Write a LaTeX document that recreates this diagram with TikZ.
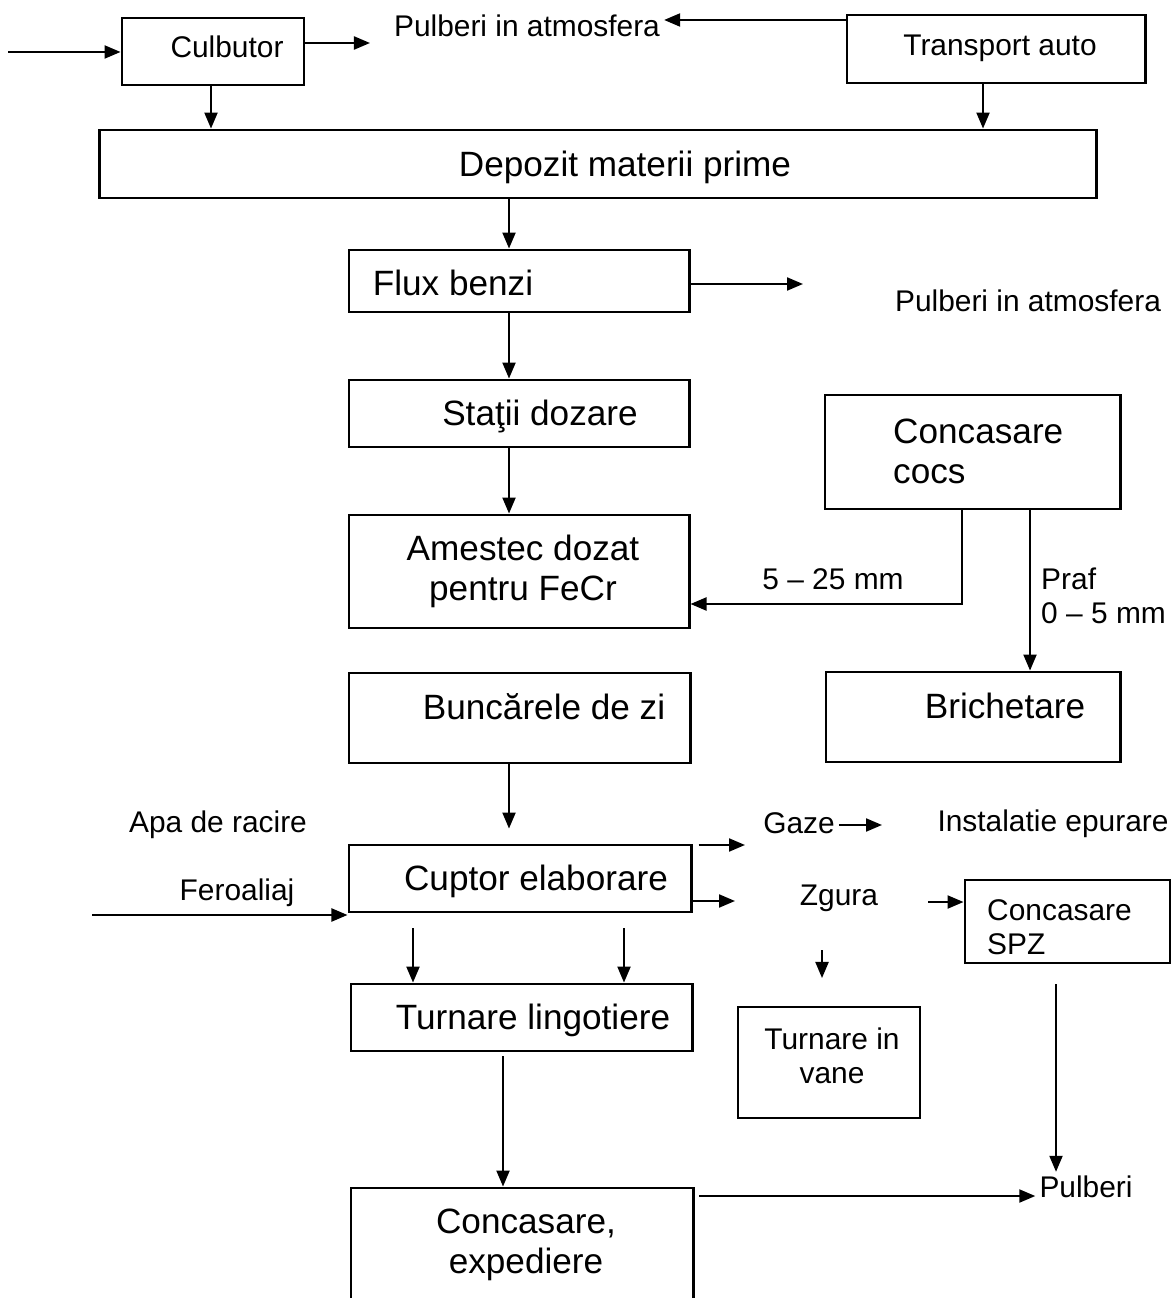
\documentclass[tikz,border=0pt]{standalone}
\usepackage{fontspec}
\setmainfont{Liberation Sans}
\usetikzlibrary{arrows.meta}
\tikzset{
  box/.style={draw, line width=0.8pt, inner sep=0pt},
  big/.style={font=\fontsize{10}{11.4}\selectfont, inner sep=1pt},
  small/.style={font=\fontsize{8.5}{9.7}\selectfont, inner sep=1pt},
  arr/.style={line width=0.6pt, -{Triangle[length=1.6mm,width=1.3mm]}}
}
\begin{document}
\begin{tikzpicture}[x=0.01cm,y=-0.01cm]
     \useasboundingbox (0,0) rectangle (1174,1298);
     \clip (0,0) rectangle (1174,1298);

     \node[box, minimum width=1.82cm, minimum height=0.67cm] (culbutor) at (213,51.5) {};
     \node[box, minimum width=2.98cm, minimum height=0.68cm] (transport) at (996,49) {};
     \node[box, minimum width=9.96cm, minimum height=0.68cm] (depozit) at (598,164) {};
     \node[box, minimum width=3.40cm, minimum height=0.62cm] (flux) at (519,281) {};
     \node[box, minimum width=3.40cm, minimum height=0.67cm] (statii) at (519,413.5) {};
     \node[box, minimum width=3.40cm, minimum height=1.13cm] (amestec) at (519,571.5) {};
     \node[box, minimum width=2.95cm, minimum height=1.14cm] (cocs) at (972.5,452) {};
     \node[box, minimum width=2.94cm, minimum height=0.90cm] (brichetare) at (973,717) {};
     \node[box, minimum width=3.41cm, minimum height=0.90cm] (buncare) at (519.5,718) {};
     \node[box, minimum width=3.42cm, minimum height=0.67cm] (cuptor) at (520,878.5) {};
     \node[box, minimum width=2.05cm, minimum height=0.83cm] (spz) at (1067.5,921.5) {};
     \node[box, minimum width=3.41cm, minimum height=0.67cm] (lingotiere) at (521.5,1017.5) {};
     \node[box, minimum width=1.82cm, minimum height=1.11cm] (vane) at (829,1062.5) {};
     \node[box, minimum width=3.42cm, minimum height=1.30cm] (expediere) at (522,1253) {};

     \node[small] (culbutortxt) at (227,47) {Culbutor};
     \node[small] (pulberi1) at (527,26) {Pulberi in atmosfera};
     \node[small] (transporttxt) at (1000,48) {Transport auto};
     \node[big] (depozittxt) at (625,167) {Depozit materii prime};
     \node[big] (fluxtxt) at (453,283) {Flux benzi};
     \node[small] (pulberi2) at (1028,301) {Pulberi in atmosfera};
     \node[big] (statiitxt) at (540,416) {Staţii dozare};
     \node[big, align=center] (amestectxt) at (523,571) {Amestec dozat\\pentru FeCr};
     \node[big, align=left, anchor=west] (cocstxt) at (889,451) {Concasare\\ cocs};
     \node[small] (granule) at (833,579) {5 -- 25 mm};
     \node[small, align=left, anchor=west] (praf) at (1037,596) {Praf\\0 -- 5 mm};
     \node[big] (brichetaretxt) at (1005,706) {Brichetare};
     \node[big] (buncaretxt) at (544,707) {Buncărele de zi};
     \node[small] (apa) at (218,825) {Apa de racire};
     \node[small] (feroaliaj) at (237,893) {Feroaliaj};
     \node[big] (cuptortxt) at (536,881) {Cuptor elaborare};
     \node[small] (gaze) at (799,823) {Gaze};
     \node[small] (instalatie) at (1053,824) {Instalatie epurare};
     \node[small] (zgura) at (839,898) {Zgura};
     \node[small, align=left, anchor=west] (spztxt) at (983,927) {Concasare\\SPZ};
     \node[big] (lingotieretxt) at (533,1020) {Turnare lingotiere};
     \node[small, align=center] (vanetxt) at (832,1056) {Turnare in\\vane};
     \node[big, align=center] (expedieretxt) at (526,1245) {Concasare,\\expediere};
     \node[small] (pulberi3) at (1086,1187) {Pulberi};

     \coordinate (intrare) at (8,52);
     \draw[arr] (intrare) -- (culbutor.west |- intrare);
     \coordinate (iesire1) at (370,43);
     \draw[arr] (culbutor.east |- iesire1) -- (iesire1);
     \coordinate (yt) at (0,20);
     \draw[arr] (transport.west |- yt) -- (pulberi1.east |- yt);
     \coordinate (xa) at (211,0);
     \draw[arr] (xa |- culbutor.south) -- (xa |- depozit.north);
     \coordinate (xt) at (983,0);
     \draw[arr] (xt |- transport.south) -- (xt |- depozit.north);

     \coordinate (col) at (509,0);
     \draw[arr] (col |- depozit.south) -- (col |- flux.north);
     \coordinate (iesire2) at (803,284);
     \draw[arr] (flux.east |- iesire2) -- (iesire2);
     \draw[arr] (col |- flux.south) -- (col |- statii.north);
     \draw[arr] (col |- statii.south) -- (col |- amestec.north);

     \coordinate (xb) at (962,0);
     \coordinate (yb) at (0,604);
     \draw[arr] (xb |- cocs.south) |- (amestec.east |- yb);
     \coordinate (xp) at (1030,0);
     \draw[arr] (xp |- cocs.south) -- (xp |- brichetare.north);

     \draw[arr, shorten >=0.15cm] (col |- buncare.south) -- (col |- cuptor.north);
     \coordinate (feroin) at (92,915);
     \draw[arr] (feroin) -- (cuptor.west |- feroin);
     \coordinate (gazein) at (745,845);
     \draw[arr, shorten <=0.06cm] (cuptor.east |- gazein) -- (gazein);
     \coordinate (gazeout) at (882,825);
     \draw[arr] (gaze.east |- gazeout) -- (gazeout);
     \coordinate (zgurain) at (735,901);
     \draw[arr] (cuptor.east |- zgurain) -- (zgurain);
     \coordinate (zguraout) at (928,902);
     \draw[arr] (zguraout) -- (spz.west |- zguraout);
     \coordinate (vanesus) at (822,950);
     \coordinate (vanejos) at (822,978);
     \draw[arr] (vanesus) -- (vanejos);

     \coordinate (l1) at (413,0);
     \coordinate (l2) at (624,0);
     \draw[arr, shorten <=0.15cm] (l1 |- cuptor.south) -- (l1 |- lingotiere.north);
     \draw[arr, shorten <=0.15cm] (l2 |- cuptor.south) -- (l2 |- lingotiere.north);
     \coordinate (l3) at (503,0);
     \draw[arr, shorten <=0.04cm] (l3 |- lingotiere.south) -- (l3 |- expediere.north);
     \coordinate (expout) at (699,1196);
     \draw[arr] (expout) -- (expout -| pulberi3.west);
     \coordinate (xq) at (1056,0);
     \draw[arr, shorten <=0.2cm] (xq |- spz.south) -- (xq |- pulberi3.north);
\end{tikzpicture}
\end{document}
